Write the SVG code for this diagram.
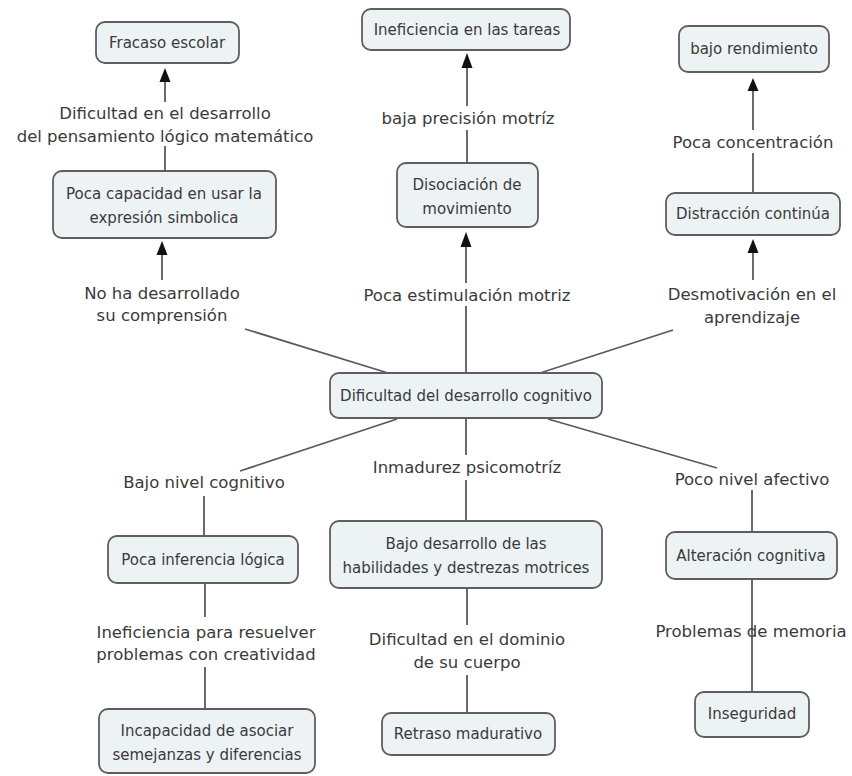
<svg xmlns="http://www.w3.org/2000/svg" width="852" height="776" viewBox="0 0 852 776">
<style>
.node rect{fill:#edf2f5;stroke:#5e5e5e;stroke-width:1.8}
.node text{font-family:"DejaVu Sans",Verdana,sans-serif;font-size:15px;fill:#3a3a3a;text-anchor:middle}
.lbl{font-family:"DejaVu Sans",Verdana,sans-serif;font-size:16.5px;fill:#3a3a3a;text-anchor:middle}
#connectors line{stroke:#5a5a5a;stroke-width:1.8}
#connectors polygon{fill:#111}
</style>
<rect width="852" height="776" fill="#fff"/>
<g id="connectors">
<line x1="165" y1="171" x2="165" y2="146"/><line x1="165" y1="102" x2="165" y2="80"/><polygon points="165,68 159.5,82 170.5,82"/>
<line x1="388" y1="373" x2="245" y2="329"/><line x1="162" y1="280" x2="162" y2="252"/><polygon points="162,241 156.5,255 167.5,255"/>
<line x1="466" y1="373" x2="466" y2="306"/><line x1="466" y1="283" x2="466" y2="246"/><polygon points="466,232 460.5,247 471.5,247"/>
<line x1="467" y1="163" x2="467" y2="130"/><line x1="467" y1="106" x2="467" y2="66"/><polygon points="467,53 461.5,68 472.5,68"/>
<line x1="540" y1="373" x2="673" y2="330"/><line x1="753" y1="280" x2="753" y2="250"/><polygon points="753,239 747.5,253 758.5,253"/>
<line x1="753" y1="193" x2="753" y2="153"/><line x1="753" y1="130" x2="753" y2="88"/><polygon points="753,78 747.5,91 758.5,91"/>
<line x1="397" y1="419" x2="240" y2="471"/><line x1="204" y1="496" x2="204" y2="536"/>
<line x1="466" y1="418" x2="466" y2="455"/><line x1="466" y1="480" x2="466" y2="521"/>
<line x1="548" y1="419" x2="717" y2="468"/><line x1="752" y1="490" x2="752" y2="532"/>
<line x1="205" y1="583" x2="205" y2="617"/><line x1="205" y1="667" x2="205" y2="709"/>
<line x1="467" y1="588" x2="467" y2="625"/><line x1="467" y1="675" x2="467" y2="713"/>
<line x1="752" y1="579" x2="752" y2="692"/>
</g>
<g id="labels">
<text class="lbl" x="165" y="119">Dificultad en el desarrollo</text>
<text class="lbl" x="165" y="142">del pensamiento lógico matemático</text>
<text class="lbl" x="468" y="124">baja precisión motríz</text>
<text class="lbl" x="753" y="148">Poca concentración</text>
<text class="lbl" x="162" y="299">No ha desarrollado</text>
<text class="lbl" x="162" y="321">su comprensión</text>
<text class="lbl" x="467" y="301">Poca estimulación motriz</text>
<text class="lbl" x="752" y="300">Desmotivación en el</text>
<text class="lbl" x="752" y="323">aprendizaje</text>
<text class="lbl" x="204" y="488">Bajo nivel cognitivo</text>
<text class="lbl" x="467" y="473">Inmadurez psicomotríz</text>
<text class="lbl" x="752" y="485">Poco nivel afectivo</text>
<text class="lbl" x="206" y="638">Ineficiencia para resuelver</text>
<text class="lbl" x="206" y="660">problemas con creatividad</text>
<text class="lbl" x="467" y="645">Dificultad en el dominio</text>
<text class="lbl" x="467" y="668">de su cuerpo</text>
<text class="lbl" x="751" y="637">Problemas de memoria</text>
</g>
<g id="n-fracaso" class="node"><rect x="96" y="22" width="143" height="41" rx="9"/><text x="167" y="48">Fracaso escolar</text></g>
<g id="n-poca-capacidad" class="node"><rect x="53" y="171" width="223" height="67" rx="9"/><text x="164" y="199">Poca capacidad en usar la</text><text x="164" y="223">expresión simbolica</text></g>
<g id="n-ineficiencia-tareas" class="node"><rect x="362" y="9" width="208" height="41" rx="9"/><text x="467" y="35">Ineficiencia en las tareas</text></g>
<g id="n-disociacion" class="node"><rect x="397" y="163" width="141" height="64" rx="9"/><text x="467" y="190">Disociación de</text><text x="467" y="214">movimiento</text></g>
<g id="n-bajo-rendimiento" class="node"><rect x="679" y="26" width="150" height="46" rx="9"/><text x="754" y="54">bajo rendimiento</text></g>
<g id="n-distraccion" class="node"><rect x="666" y="193" width="174" height="42" rx="9"/><text x="753" y="219">Distracción continúa</text></g>
<g id="n-central" class="node"><rect x="330" y="373" width="272" height="45" rx="9"/><text x="466" y="401">Dificultad del desarrollo cognitivo</text></g>
<g id="n-poca-inferencia" class="node"><rect x="108" y="536" width="190" height="47" rx="9"/><text x="203" y="565">Poca inferencia lógica</text></g>
<g id="n-bajo-desarrollo" class="node"><rect x="330" y="521" width="272" height="67" rx="9"/><text x="466" y="549">Bajo desarrollo de las</text><text x="466" y="573">habilidades y destrezas motrices</text></g>
<g id="n-alteracion" class="node"><rect x="666" y="532" width="171" height="47" rx="9"/><text x="751" y="561">Alteración cognitiva</text></g>
<g id="n-incapacidad" class="node"><rect x="99" y="709" width="216" height="64" rx="9"/><text x="207" y="736">Incapacidad de asociar</text><text x="207" y="760">semejanzas y diferencias</text></g>
<g id="n-retraso" class="node"><rect x="382" y="713" width="173" height="42" rx="9"/><text x="468" y="739">Retraso madurativo</text></g>
<g id="n-inseguridad" class="node"><rect x="695" y="692" width="114" height="45" rx="9"/><text x="752" y="719">Inseguridad</text></g>
</svg>
